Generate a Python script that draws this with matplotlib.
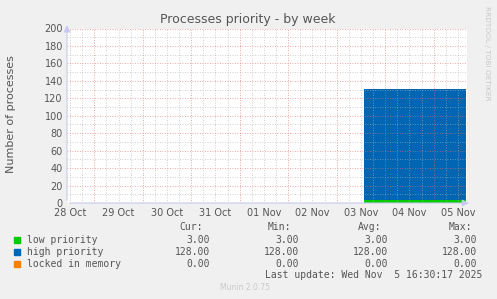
import matplotlib
matplotlib.use("Agg")
import matplotlib.pyplot as plt
import matplotlib.dates as mdates
import numpy as np
from datetime import datetime, timedelta

# data
t_start = datetime(2025, 10, 28, 10, 30)
t_end = datetime(2025, 11, 5, 16, 30)
block_times = [datetime(2025, 11, 3, 13, 30), datetime(2025, 11, 5, 16, 0)]
low_priority = [3, 3]
high_priority = [128, 128]
locked_in_memory = [0, 0]

series_names = ["low priority", "high priority", "locked in memory"]
series_colors = ["#00CC00", "#0066B3", "#FF8000"]
cur_vals = ["3.00", "128.00", "0.00"]
min_vals = ["3.00", "128.00", "0.00"]
avg_vals = ["3.00", "128.00", "0.00"]
max_vals = ["3.00", "128.00", "0.00"]
yticks = list(range(0, 201, 20))

W, H = 497, 299
fig = plt.figure(figsize=(W / 100, H / 100), dpi=100)
fig.patch.set_facecolor("#F0F0F0")

def fx(x):
    return x / W

def fy(y):
    return 1 - y / H

left, right, top, bottom = 67, 467, 28.5, 203
ax = fig.add_axes([fx(left), fy(bottom), (right - left) / W, (bottom - top) / H])
ax.set_facecolor("white")

x = mdates.date2num(block_times)
low = np.array(low_priority)
high = np.array(high_priority)
ax.fill_between(x, 0, low, color=series_colors[0], lw=0, zorder=2)
ax.fill_between(x, low, low + high, color=series_colors[1], lw=0, zorder=2)

ax.set_xlim(mdates.date2num(t_start), mdates.date2num(t_end))
ax.set_ylim(0, 200)

# grid: red every day / 20, grey every 6h / 10
t = datetime(2025, 10, 28, 12)
while t < t_end:
    xv = mdates.date2num(t)
    if t.hour == 0:
        ax.axvline(xv, color="#E07070", lw=0.6, ls=(0, (1, 2)), alpha=0.8, zorder=3)
    else:
        ax.axvline(xv, color="#B0B0B0", lw=0.6, ls=(0, (1, 2)), alpha=0.8, zorder=3)
    t += timedelta(hours=6)
for yv in range(10, 201, 10):
    if yv % 20 == 0:
        ax.axhline(yv, color="#E07070", lw=0.6, ls=(0, (1, 2)), alpha=0.8, zorder=3)
    else:
        ax.axhline(yv, color="#B0B0B0", lw=0.6, ls=(0, (1, 2)), alpha=0.8, zorder=3)

noons = [datetime(2025, 10, 28, 12) + timedelta(days=i) for i in range(9)]
ax.set_xticks(mdates.date2num(noons))
ax.set_xticklabels([d.strftime("%d %b") for d in noons])
ax.set_yticks(yticks)
ax.tick_params(axis="both", labelsize=7, colors="#555555", length=0, pad=3)
ax.tick_params(axis="x", pad=3.5)
for s in ax.spines.values():
    s.set_visible(False)

# axis lines with arrows
axis_col = "#C8C8F0"
ax.annotate("", xy=(0, 1.035), xytext=(0, 0), xycoords="axes fraction",
            arrowprops=dict(arrowstyle="-|>,head_length=0.4,head_width=0.2", color=axis_col, lw=0.8),
            annotation_clip=False)
ax.annotate("", xy=(1.012, 0), xytext=(0, 0), xycoords="axes fraction",
            arrowprops=dict(arrowstyle="-|>,head_length=0.4,head_width=0.2", color=axis_col, lw=0.8),
            annotation_clip=False)

fig.text(fx(248), fy(19), "Processes priority - by week", ha="center", va="center",
         fontsize=9, color="#555555")
fig.text(fx(11), fy(114), "Number of processes", rotation=90, ha="center", va="center",
         fontsize=8, color="#555555")
fig.text(fx(487), fy(53), "RRDTOOL / TOBI OETIKER", rotation=270, ha="center", va="center",
         fontsize=5.3, color="#C8C8C8")

mono = dict(family="DejaVu Sans Mono", fontsize=7, color="#555555", va="center")
fig.text(fx(203), fy(227), "Cur:", ha="right", **mono)
fig.text(fx(291), fy(227), "Min:", ha="right", **mono)
fig.text(fx(381), fy(227), "Avg:", ha="right", **mono)
fig.text(fx(472), fy(227), "Max:", ha="right", **mono)
rows_y = [240, 252, 264]
for i, name in enumerate(series_names):
    y = rows_y[i]
    fig.patches.append(plt.Rectangle((fx(14), fy(y + 3)), 6 / W, 6 / H,
                                     transform=fig.transFigure, color=series_colors[i]))
    fig.text(fx(27), fy(y), name, ha="left", **mono)
    fig.text(fx(210), fy(y), cur_vals[i], ha="right", **mono)
    fig.text(fx(299), fy(y), min_vals[i], ha="right", **mono)
    fig.text(fx(388), fy(y), avg_vals[i], ha="right", **mono)
    fig.text(fx(477), fy(y), max_vals[i], ha="right", **mono)
fig.text(fx(482), fy(275), "Last update: Wed Nov  5 16:30:17 2025", ha="right", **mono)
fig.text(fx(245), fy(288), "Munin 2.0.75", ha="center", va="center", fontsize=5.5, color="#C8C8C8")

fig.savefig("out.png", dpi=100, facecolor=fig.get_facecolor())
